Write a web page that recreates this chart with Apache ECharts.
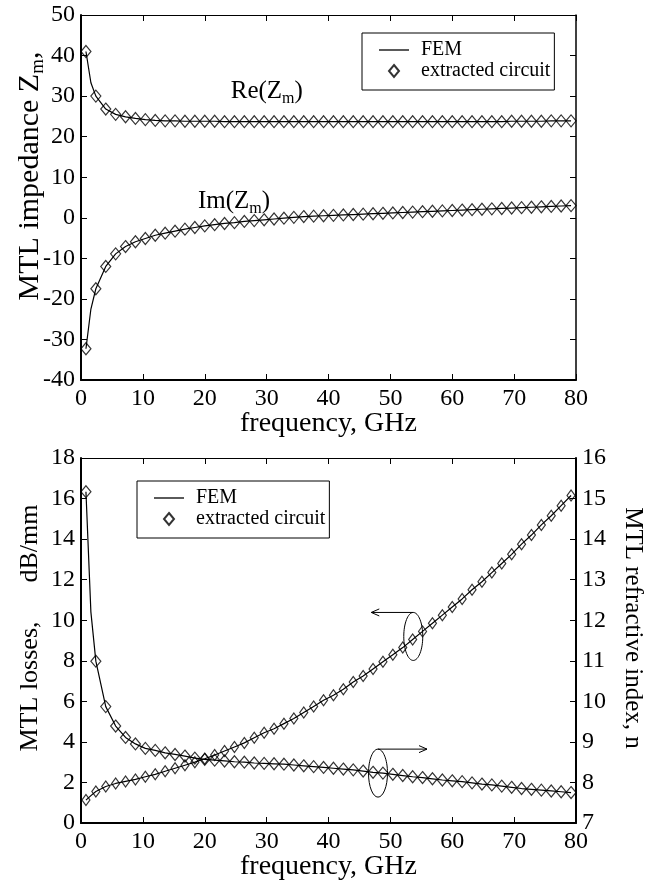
<!DOCTYPE html>
<html>
<head>
<meta charset="utf-8">
<script src="https://cdn.jsdelivr.net/npm/echarts@6/dist/echarts.min.js"></script>
<style>
  html, body { margin: 0; padding: 0; background: #fff; }
  #chart { width: 656px; height: 886px; }
</style>
</head>
<body>
<div id="chart"></div>
<script>
// Frequency sweep of the extracted-circuit samples, GHz
const freq = [0.8, 2.4, 4.0, 5.6, 7.2, 8.8, 10.4, 12.0, 13.6, 15.2,
              16.8, 18.4, 20.0, 21.6, 23.2, 24.8, 26.4, 28.0, 29.6, 31.2,
              32.8, 34.4, 36.0, 37.6, 39.2, 40.8, 42.4, 44.0, 45.6, 47.2,
              48.8, 50.4, 52.0, 53.6, 55.2, 56.8, 58.4, 60.0, 61.6, 63.2,
              64.8, 66.4, 68.0, 69.6, 71.2, 72.8, 74.4, 76.0, 77.6, 79.2];

// MTL impedance Zm (ohm)
const reZm = [41.0, 30.0, 26.8, 25.5, 24.9, 24.5, 24.2, 24.0, 23.9, 23.9,
              23.8, 23.8, 23.8, 23.8, 23.7, 23.7, 23.7, 23.7, 23.7, 23.7,
              23.7, 23.7, 23.7, 23.7, 23.7, 23.7, 23.7, 23.7, 23.7, 23.7,
              23.7, 23.7, 23.7, 23.7, 23.7, 23.7, 23.7, 23.7, 23.7, 23.7,
              23.7, 23.7, 23.7, 23.8, 23.8, 23.8, 23.8, 23.9, 23.9, 23.9];
const imZm = [-32.3, -17.5, -12.0, -8.9, -7.1, -5.9, -5.1, -4.3, -3.8, -3.3,
              -2.8, -2.4, -2.0, -1.7, -1.4, -1.2, -0.9, -0.7, -0.5, -0.3,
              -0.1, 0.1, 0.3, 0.4, 0.5, 0.6, 0.7, 0.8, 0.9, 1.0,
              1.1, 1.2, 1.3, 1.4, 1.5, 1.6, 1.7, 1.8, 1.9, 2.0,
              2.1, 2.2, 2.3, 2.4, 2.5, 2.6, 2.7, 2.8, 2.9, 3.0];

// MTL losses (dB/mm) and refractive index n
const losses = [1.13, 1.55, 1.80, 1.95, 2.05, 2.15, 2.28, 2.40, 2.55, 2.70,
                2.85, 3.00, 3.17, 3.35, 3.55, 3.75, 3.95, 4.20, 4.45, 4.65,
                4.90, 5.15, 5.45, 5.75, 6.05, 6.30, 6.60, 6.95, 7.25, 7.60,
                7.95, 8.30, 8.65, 9.05, 9.45, 9.85, 10.25, 10.65, 11.05, 11.50,
                11.90, 12.35, 12.80, 13.25, 13.75, 14.20, 14.70, 15.15, 15.65, 16.15];
const refrIndex = [15.17, 10.99, 9.87, 9.39, 9.11, 8.95, 8.84, 8.79, 8.73, 8.69,
                   8.65, 8.60, 8.57, 8.55, 8.53, 8.51, 8.50, 8.48, 8.47, 8.46,
                   8.45, 8.43, 8.41, 8.39, 8.37, 8.35, 8.33, 8.31, 8.28, 8.25,
                   8.23, 8.20, 8.17, 8.14, 8.12, 8.09, 8.06, 8.04, 8.02, 7.99,
                   7.96, 7.94, 7.91, 7.88, 7.85, 7.83, 7.81, 7.79, 7.77, 7.75];

// The FEM sweep carries one more low-frequency sample
const femExtraFreq = [1.6];
const reZmFemExtra = [33.3];
const imZmFemExtra = [-22.5];
const lossesFemExtra = [1.35];
const refrIndexFemExtra = [12.2];

// Axis ticks
const freqTicks = [0, 10, 20, 30, 40, 50, 60, 70, 80];
const zTicks = [-40, -30, -20, -10, 0, 10, 20, 30, 40, 50];
const lossTicks = [0, 2, 4, 6, 8, 10, 12, 14, 16, 18];
const indexTicks = [7, 8, 9, 10, 11, 12, 13, 14, 15, 16];

const FONT = 'Liberation Serif';
const INK = '#000';

function pairs(xs, ys) { return xs.map((x, i) => [x, ys[i]]); }
function femData(xs, ys, exX, exY) {
  return pairs(xs, ys).concat(pairs(exX, exY)).sort((a, b) => a[0] - b[0]);
}
function range(ticks) {
  return { min: ticks[0], max: ticks[ticks.length - 1], interval: ticks[1] - ticks[0] };
}

function freqAxis(gridIndex, position) {
  const bottom = position === 'bottom';
  return Object.assign({
    type: 'value', gridIndex, position,
    name: bottom ? 'frequency, GHz' : '',
    nameLocation: 'middle', nameGap: 30, nameMoveOverlap: false,
    nameTextStyle: { fontFamily: FONT, fontSize: 28, color: INK },
    axisLine: { show: true, onZero: false, lineStyle: { color: INK, width: bottom ? 2 : 1 } },
    axisTick: { show: true, inside: true, length: 6, lineStyle: { color: INK, width: 1 } },
    axisLabel: { show: bottom, fontFamily: FONT, fontSize: 24, color: INK, margin: 7 },
    splitLine: { show: false }
  }, range(freqTicks));
}

function valueAxis(gridIndex, position, ticks, labels, width) {
  return Object.assign({
    type: 'value', gridIndex, position,
    axisLine: { show: true, onZero: false, lineStyle: { color: INK, width } },
    axisTick: { show: true, inside: true, length: 6, lineStyle: { color: INK, width: 1 } },
    axisLabel: { show: labels, fontFamily: FONT, fontSize: 24, color: INK, margin: 6 },
    splitLine: { show: false }
  }, range(ticks));
}

function femLine(name, xi, yi, data) {
  return {
    type: 'line', name, xAxisIndex: xi, yAxisIndex: yi, data,
    symbol: 'none', smooth: false, silent: true, z: 2,
    lineStyle: { color: INK, width: 1.2 }, itemStyle: { color: INK }
  };
}
function circuitPoints(name, xi, yi, data, size) {
  return {
    type: 'scatter', name, xAxisIndex: xi, yAxisIndex: yi, data,
    symbol: 'diamond', symbolSize: size, silent: true, z: 3,
    itemStyle: { color: 'transparent', borderColor: INK, borderWidth: 1.2 }
  };
}

// Legend keys: a plain solid stroke for FEM, a hollow diamond for the circuit
const DASH = 'path://M0,0L30,0L30,1.3L0,1.3Z';
const DIAMOND = 'path://M5,0L10,6L5,12L0,6Z';
function legendBox(left, top) {
  return {
    orient: 'vertical', left, top,
    padding: [7, 4, 9, 17], itemWidth: 30, itemHeight: 12, itemGap: 1,
    borderColor: INK, borderWidth: 1, borderRadius: 0, backgroundColor: '#fff',
    selectedMode: false,
    textStyle: { fontFamily: FONT, fontSize: 20, color: INK, lineHeight: 20, padding: [0, 0, 0, 7] },
    data: [
      { name: 'FEM', icon: DASH, itemStyle: { color: INK, borderWidth: 0 } },
      { name: 'extracted circuit', icon: DIAMOND }
    ]
  };
}

const chart = echarts.init(document.getElementById('chart'), null, { renderer: 'canvas' });

chart.setOption({
  animation: false,
  backgroundColor: '#fff',
  grid: [
    { left: 81, top: 15, width: 495, height: 365, outerBoundsMode: 'none' },
    { left: 81, top: 458, width: 495, height: 365, outerBoundsMode: 'none' }
  ],
  xAxis: [
    freqAxis(0, 'bottom'), freqAxis(0, 'top'),
    freqAxis(1, 'bottom'), freqAxis(1, 'top')
  ],
  yAxis: [
    valueAxis(0, 'left', zTicks, true, 2),
    valueAxis(0, 'right', zTicks, false, 1.5),
    valueAxis(1, 'left', lossTicks, true, 2),
    valueAxis(1, 'right', indexTicks, true, 2)
  ],
  legend: [legendBox(362, 33), legendBox(137, 481)],
  series: [
    femLine('FEM', 0, 0, femData(freq, reZm, femExtraFreq, reZmFemExtra)),
    circuitPoints('extracted circuit', 0, 0, pairs(freq, reZm), [10, 12]),
    femLine('FEM', 0, 0, femData(freq, imZm, femExtraFreq, imZmFemExtra)),
    circuitPoints('extracted circuit', 0, 0, pairs(freq, imZm), [10, 12]),
    femLine('FEM', 2, 2, femData(freq, losses, femExtraFreq, lossesFemExtra)),
    circuitPoints('extracted circuit', 2, 2, pairs(freq, losses), [8, 11]),
    femLine('FEM', 2, 3, femData(freq, refrIndex, femExtraFreq, refrIndexFemExtra)),
    circuitPoints('extracted circuit', 2, 3, pairs(freq, refrIndex), [10, 12])
  ]
});

// Titles, curve labels and the ellipse/arrow keys telling which axis each curve uses
function titleText(x, y, rotation, text, size, rich) {
  return {
    type: 'text', x, y, rotation, silent: true,
    style: { text, rich, align: 'center', verticalAlign: 'middle', fill: INK,
             fontFamily: FONT, fontSize: size }
  };
}
const subRich = (big, small, lh) => ({
  n: { fontFamily: FONT, fontSize: big, lineHeight: lh, fill: INK },
  s: { fontFamily: FONT, fontSize: small, lineHeight: small, verticalAlign: 'bottom', fill: INK }
});

function arrowKey(cx, cy, rx, ry, dir, len) {
  const y = cy - ry, x0 = cx, x1 = cx + dir * len;
  return [
    { type: 'ellipse', silent: true, shape: { cx, cy, rx, ry },
      style: { fill: 'none', stroke: INK, lineWidth: 1 } },
    { type: 'polyline', silent: true, shape: { points: [[x0, y], [x1, y]] },
      style: { fill: 'none', stroke: INK, lineWidth: 1 } },
    { type: 'polyline', silent: true,
      shape: { points: [[x1 - dir * 8, y - 3.5], [x1, y], [x1 - dir * 8, y + 3.5]] },
      style: { fill: 'none', stroke: INK, lineWidth: 1 } }
  ];
}

const lossKey = chart.convertToPixel({ seriesIndex: 5 }, [53.7, 9.2]);
const indexKey = chart.convertToPixel({ seriesIndex: 7 }, [48.0, 8.23]);
const reLabel = chart.convertToPixel({ seriesIndex: 1 }, [24.2, 31.1]);
const imLabel = chart.convertToPixel({ seriesIndex: 3 }, [18.9, 4.0]);

chart.setOption({
  graphic: [
    titleText(30, 176, Math.PI / 2, '{n|MTL impedance Z}{s|m}{n|,}', 30, subRich(30, 19, 36)),
    titleText(30, 628, Math.PI / 2, 'MTL losses,      dB/mm', 26),
    titleText(633, 628, -Math.PI / 2, 'MTL refractive index, n', 25),
    {
      type: 'text', x: reLabel[0], y: reLabel[1], silent: true,
      style: { text: '{n|Re(Z}{s|m}{n|)}', rich: subRich(25, 16, 30), align: 'left', verticalAlign: 'middle' }
    },
    {
      type: 'text', x: imLabel[0], y: imLabel[1], silent: true,
      style: { text: '{n|Im(Z}{s|m}{n|)}', rich: subRich(25, 16, 30), align: 'left', verticalAlign: 'middle' }
    }
  ].concat(arrowKey(lossKey[0], lossKey[1], 9.5, 24, -1, 42))
   .concat(arrowKey(indexKey[0], indexKey[1], 9.5, 24, 1, 49))
});
</script>
</body>
</html>
